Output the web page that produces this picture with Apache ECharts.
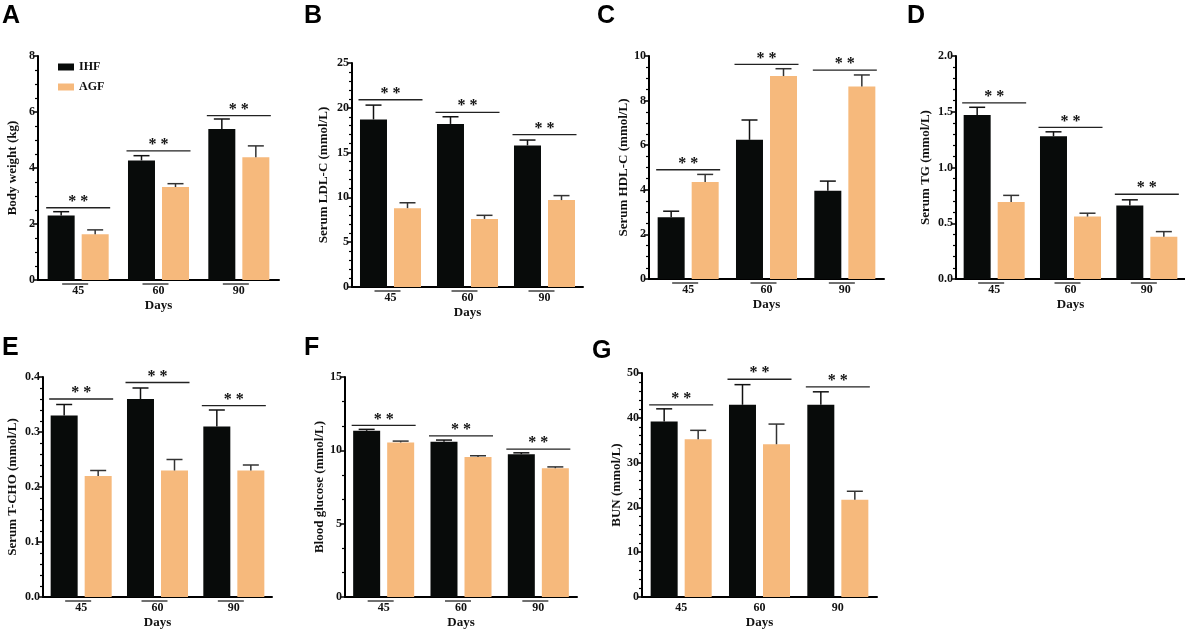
<!DOCTYPE html>
<html>
<head>
<meta charset="utf-8">
<script src="https://cdn.jsdelivr.net/npm/echarts@6/dist/echarts.min.js"></script>
<style>
  html, body { margin: 0; padding: 0; background: #fff; }
  #chart { width: 1185px; height: 630px; }
</style>
</head>
<body>
<div id="chart"></div>
<script>
// categories
const days = ['45', '60', '90'];

// A - body weight (kg)
const weightIHF = [2.30, 4.27, 5.39];
const weightIHFSd = [0.14, 0.17, 0.36];
const weightAGF = [1.63, 3.32, 4.38];
const weightAGFSd = [0.16, 0.12, 0.41];
const weightSig = [2.58, 4.61, 5.87];

// B - serum LDL-C (mmol/L)
const ldlIHF = [18.7, 18.2, 15.8];
const ldlIHFSd = [1.6, 0.8, 0.6];
const ldlAGF = [8.8, 7.6, 9.7];
const ldlAGFSd = [0.6, 0.4, 0.5];
const ldlSig = [20.9, 19.5, 17.0];

// C - serum HDL-C (mmol/L)
const hdlIHF = [2.77, 6.24, 3.96];
const hdlIHFSd = [0.27, 0.89, 0.43];
const hdlAGF = [4.35, 9.10, 8.63];
const hdlAGFSd = [0.34, 0.33, 0.52];
const hdlSig = [4.90, 9.62, 9.37];

// D - serum TG (mmol/L)
const tgIHF = [1.47, 1.28, 0.66];
const tgIHFSd = [0.07, 0.04, 0.05];
const tgAGF = [0.69, 0.56, 0.38];
const tgAGFSd = [0.06, 0.03, 0.045];
const tgSig = [1.58, 1.36, 0.76];

// E - serum T-CHO (mmol/L)
const tchoIHF = [0.33, 0.36, 0.31];
const tchoIHFSd = [0.02, 0.02, 0.03];
const tchoAGF = [0.22, 0.23, 0.23];
const tchoAGFSd = [0.01, 0.02, 0.01];
const tchoSig = [0.36, 0.39, 0.348];

// F - blood glucose (mmol/L)
const gluIHF = [11.33, 10.59, 9.74];
const gluIHFSd = [0.10, 0.11, 0.09];
const gluAGF = [10.54, 9.54, 8.78];
const gluAGFSd = [0.09, 0.09, 0.09];
const gluSig = [11.70, 10.99, 10.08];

// G - BUN (mmol/L)
const bunIHF = [39.2, 42.9, 42.9];
const bunIHFSd = [2.8, 4.5, 2.9];
const bunAGF = [35.2, 34.1, 21.7];
const bunAGFSd = [2.0, 4.5, 1.9];
const bunSig = [42.9, 48.6, 46.9];

const BLACK = '#080b0a';
const ORANGE = '#f6b97c';
const SERIF = '"Liberation Serif", "Times New Roman", serif';

// panel layout: grid box + y axis settings
const panels = [
    { letter: 'A', lx: 2, ly: 4, left: 38, top: 56, width: 241, height: 224, max: 8, interval: 2, minor: 4, name: 'Body weight (kg)', nameGap: 19, fmt: 0, ihf: weightIHF, ihfSd: weightIHFSd, agf: weightAGF, agfSd: weightAGFSd, sig: weightSig, dash: true },
    { letter: 'B', lx: 304, ly: 4, left: 352, top: 63, width: 231, height: 224, max: 25, interval: 5, minor: 5, name: 'Serum LDL-C (mmol/L)', nameGap: 22, fmt: 0, ihf: ldlIHF, ihfSd: ldlIHFSd, agf: ldlAGF, agfSd: ldlAGFSd, sig: ldlSig, dash: true },
    { letter: 'C', lx: 597, ly: 4, left: 649, top: 56, width: 235, height: 223, max: 10, interval: 2, minor: 4, name: 'Serum HDL-C (mmol/L)', nameGap: 19, fmt: 0, ihf: hdlIHF, ihfSd: hdlIHFSd, agf: hdlAGF, agfSd: hdlAGFSd, sig: hdlSig, dash: true },
    { letter: 'D', lx: 907, ly: 4, left: 956, top: 56, width: 229, height: 223, max: 2, interval: 0.5, minor: 5, name: 'Serum TG (mmol/L)', nameGap: 24, fmt: 1, ihf: tgIHF, ihfSd: tgIHFSd, agf: tgAGF, agfSd: tgAGFSd, sig: tgSig, dash: true },
    { letter: 'E', lx: 2, ly: 336, left: 43, top: 377, width: 229, height: 223, max: 0.4, interval: 0.1, minor: 5, name: 'Serum T-CHO (mmol/L)', nameGap: 24, fmt: 1, ihf: tchoIHF, ihfSd: tchoIHFSd, agf: tchoAGF, agfSd: tchoAGFSd, sig: tchoSig, dash: true },
    { letter: 'F', lx: 304, ly: 336, left: 345, top: 377, width: 232, height: 225, max: 15, interval: 5, minor: 3, name: 'Blood glucose (mmol/L)', nameGap: 18, fmt: 0, ihf: gluIHF, ihfSd: gluIHFSd, agf: gluAGF, agfSd: gluAGFSd, sig: gluSig, dash: true },
    { letter: 'G', lx: 592, ly: 339, left: 642, top: 373, width: 235, height: 224, max: 50, interval: 10, minor: 5, name: 'BUN (mmol/L)', nameGap: 18, fmt: 0, ihf: bunIHF, ihfSd: bunIHFSd, agf: bunAGF, agfSd: bunAGFSd, sig: bunSig, dash: false },
];

const BAR_W = 27;
const OFFSET = 17; // half of bar width + gap

function errorRender(offset, color) {
    return function (params, api) {
        const m = api.value(1);
        const sd = api.value(2);
        const p0 = api.coord([api.value(0), m]);
        const p1 = api.coord([api.value(0), m + sd]);
        const cx = p0[0] + offset;
        const st = { stroke: color, lineWidth: 1.5 };
        return {
            type: 'group',
            children: [
                { type: 'line', shape: { x1: cx, y1: p0[1], x2: cx, y2: p1[1] }, style: st },
                { type: 'line', shape: { x1: cx - 8, y1: p1[1], x2: cx + 8, y2: p1[1] }, style: st },
            ],
        };
    };
}

function sigRender(params, api) {
    const p = api.coord([api.value(0), api.value(1)]);
    return {
        type: 'group',
        children: [
            { type: 'line', shape: { x1: p[0] - 32, y1: p[1], x2: p[0] + 32, y2: p[1] }, style: { stroke: '#222', lineWidth: 1.3 } },
            { type: 'text', x: p[0], y: p[1] + 2, style: { text: '* *', textAlign: 'center', textVerticalAlign: 'bottom', font: 'bold 16px ' + SERIF, fill: '#111' } },
        ],
    };
}

function dashRender(params, api) {
    const p = api.coord([api.value(0), 0]);
    return {
        type: 'line',
        shape: { x1: p[0] - 16, y1: p[1] + 4, x2: p[0] + 10, y2: p[1] + 4 },
        style: { stroke: '#222', lineWidth: 1.3 },
    };
}

const grids = [];
const xAxes = [];
const yAxes = [];
const series = [];
const graphics = [];

panels.forEach((p, i) => {
    grids.push({ left: p.left, top: p.top, width: p.width, height: p.height });
    xAxes.push({
        type: 'category',
        gridIndex: i,
        data: days,
        name: 'Days',
        nameLocation: 'middle',
        nameGap: 19,
        nameTextStyle: { fontFamily: SERIF, fontWeight: 'bold', fontSize: 13, color: '#111' },
        axisLine: { lineStyle: { color: '#000', width: 2 } },
        axisTick: { show: false },
        axisLabel: { margin: 5, fontFamily: SERIF, fontWeight: 'bold', fontSize: 12, color: '#111' },
    });
    yAxes.push({
        type: 'value',
        gridIndex: i,
        min: 0,
        max: p.max,
        interval: p.interval,
        name: p.name,
        nameLocation: 'middle',
        nameGap: p.nameGap,
        nameTextStyle: { fontFamily: SERIF, fontWeight: 'bold', fontSize: 13, color: '#111' },
        axisLine: { show: true, lineStyle: { color: '#000', width: 2 } },
        axisTick: { show: true, length: 5, lineStyle: { color: '#000', width: 1.5 } },
        minorTick: { show: true, splitNumber: p.minor, length: 3, lineStyle: { color: '#000', width: 1.2 } },
        splitLine: { show: false },
        axisLabel: {
            margin: 3,
            fontFamily: SERIF,
            fontWeight: 'bold',
            fontSize: 12,
            color: '#111',
            formatter: (v) => v.toFixed(p.fmt),
        },
    });

    series.push({
        name: 'IHF', type: 'bar', xAxisIndex: i, yAxisIndex: i,
        data: p.ihf, barWidth: BAR_W, barGap: '26%',
        itemStyle: { color: BLACK }, z: 2,
    });
    series.push({
        name: 'AGF', type: 'bar', xAxisIndex: i, yAxisIndex: i,
        data: p.agf, barWidth: BAR_W, barGap: '26%',
        itemStyle: { color: ORANGE }, z: 2,
    });
    series.push({
        type: 'custom', xAxisIndex: i, yAxisIndex: i, z: 3, clip: false,
        renderItem: errorRender(-OFFSET, '#111'),
        data: p.ihf.map((v, k) => [k, v, p.ihfSd[k]]),
    });
    series.push({
        type: 'custom', xAxisIndex: i, yAxisIndex: i, z: 3, clip: false,
        renderItem: errorRender(OFFSET, '#333'),
        data: p.agf.map((v, k) => [k, v, p.agfSd[k]]),
    });
    series.push({
        type: 'custom', xAxisIndex: i, yAxisIndex: i, z: 3, clip: false,
        renderItem: sigRender,
        data: p.sig.map((v, k) => [k, v]),
    });
    if (p.dash) {
        series.push({
            type: 'custom', xAxisIndex: i, yAxisIndex: i, z: 3, clip: false,
            renderItem: dashRender,
            data: days.map((d, k) => [k, 0]),
        });
    }

    graphics.push({
        type: 'text', left: p.lx, top: p.ly,
        style: { text: p.letter, font: 'bold 25px "Liberation Sans", Arial, sans-serif', fill: '#000' },
    });
});

const chart = echarts.init(document.getElementById('chart'));
chart.setOption({
    animation: false,
    backgroundColor: '#fff',
    legend: {
        data: ['IHF', 'AGF'],
        orient: 'vertical',
        left: 53,
        top: 56,
        itemWidth: 16,
        itemHeight: 7,
        itemGap: 8,
        icon: 'rect',
        textStyle: { fontFamily: SERIF, fontWeight: 'bold', fontSize: 12, color: '#111' },
    },
    grid: grids,
    xAxis: xAxes,
    yAxis: yAxes,
    series: series,
    graphic: graphics,
});
</script>
</body>
</html>
